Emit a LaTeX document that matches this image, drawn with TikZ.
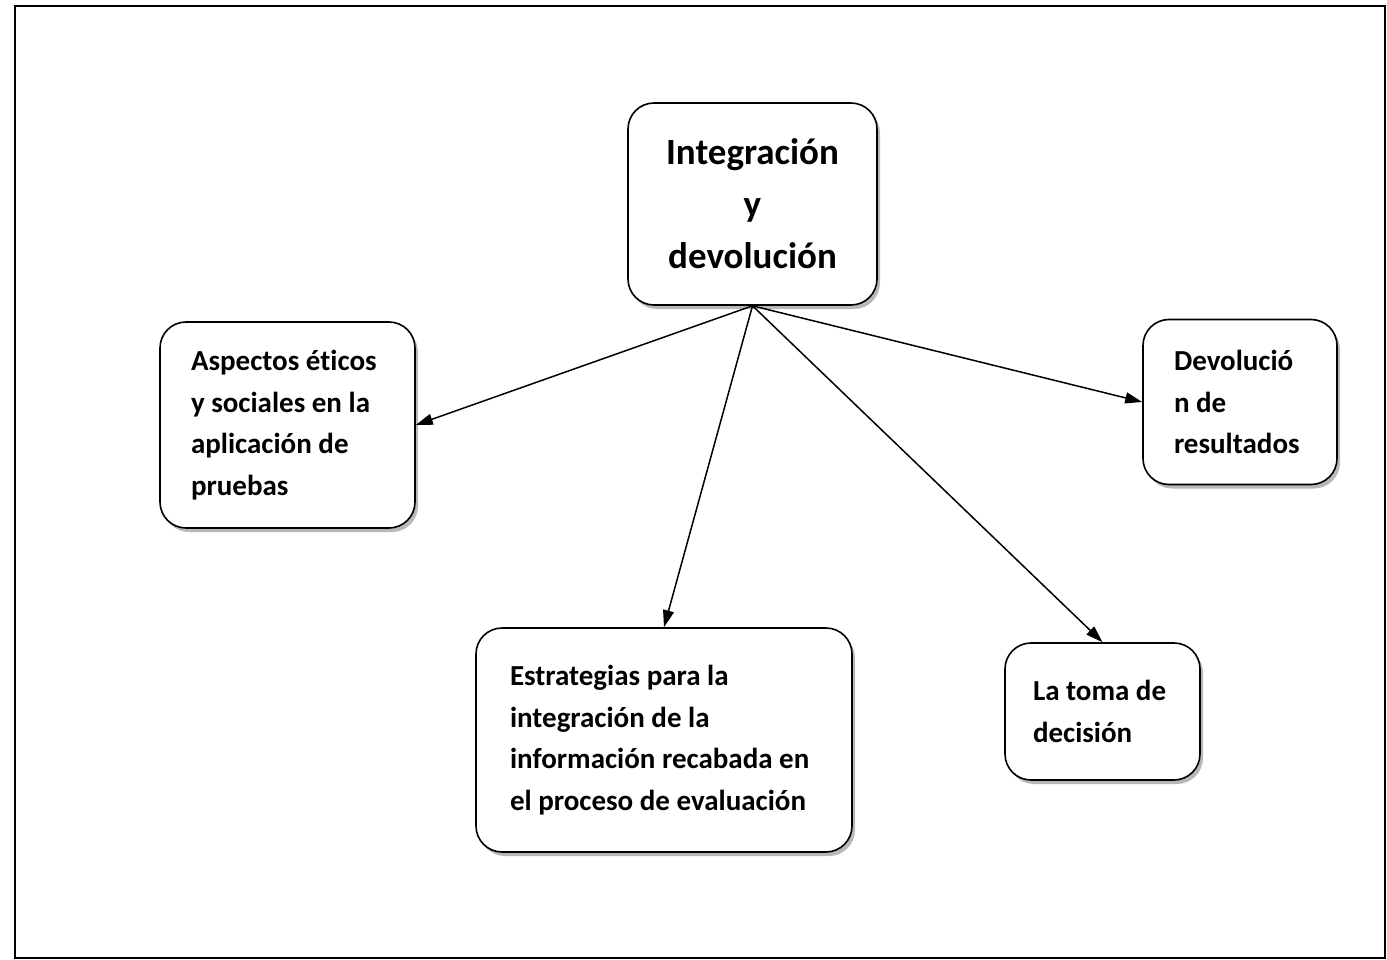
\documentclass[tikz,border=0pt]{standalone}
\usepackage{fontspec}
\setmainfont{Carlito}[RawFeature=-liga]
\usetikzlibrary{shadows,arrows.meta}
\tikzset{
  box/.style={draw=black, line width=1.6pt, rounded corners=26pt, fill=white,
    inner ysep=0pt, align=flush left,
    font=\bfseries\fontsize{29}{41.5}\selectfont,
    drop shadow={shadow xshift=3pt, shadow yshift=-4pt, fill=gray!70, opacity=0.8}},
  link/.style={line width=1.5pt, -{Triangle[length=17pt,width=11pt]}},
  frame/.style={draw=black, line width=2.2pt}
}
\begin{document}
\begin{tikzpicture}[x=1pt,y=-1pt]
\useasboundingbox (0,0) rectangle (1387,960);
\draw[frame] (15,6) rectangle (1385,958);
\node[box, align=center, inner xsep=10pt, minimum width=249pt, minimum height=202pt,
  font=\bfseries\fontsize{37}{52}\selectfont] (A) at (752.5,204)
  {Integración\\y\\devolución};
\node[box, inner xsep=31pt, text width=193pt, minimum height=206pt] (B) at (287.5,425)
  {Aspectos éticos\\y sociales en la\\aplicación de\\pruebas};
\node[box, inner xsep=31pt, text width=132pt, minimum height=165pt] (C) at (1240,402)
  {Devolució\\n de\\resultados};
\node[box, inner xsep=34pt, text width=308pt, minimum height=224pt] (D) at (664,740)
  {Estrategias para la\\integración de la\\información recabada en\\el proceso de evaluación};
\node[box, inner xsep=28pt, text width=139pt, minimum height=137pt] (E) at (1102.5,711.5)
  {La toma de\\decisión};
\draw[link] (A.south) -- (B.east);
\draw[link] (A.south) -- (D.north);
\draw[link] (A.south) -- (E.north);
\draw[link] (A.south) -- (C.west);
\end{tikzpicture}
\end{document}
